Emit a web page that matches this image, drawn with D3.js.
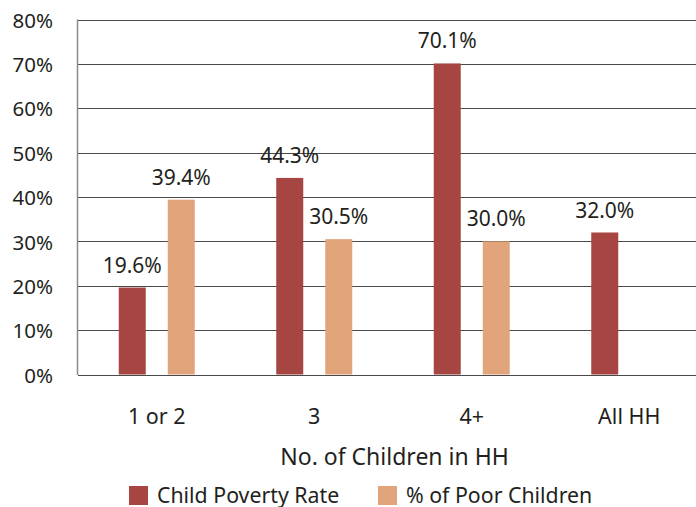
<!DOCTYPE html>
<html>
<head>
<meta charset="utf-8">
<script src="https://cdn.jsdelivr.net/npm/d3@7"></script>
<style>
  html, body { margin: 0; padding: 0; background: #fff; }
  svg { display: block; font-family: "Noto Sans", "Open Sans", sans-serif; }
</style>
</head>
<body>
<svg id="chart" width="696" height="507"></svg>
<script>
// Household groups by number of children
const categories = ["1 or 2", "3", "4+", "All HH"];
const seriesNames = ["Child Poverty Rate", "% of Poor Children"];
const povertyRate = [0.196, 0.443, 0.701, 0.320];
const poorShare = [0.394, 0.305, 0.300, null];
const yTicks = [0, 0.1, 0.2, 0.3, 0.4, 0.5, 0.6, 0.7, 0.8];
const axisTitle = "No. of Children in HH";

const colors = ["#a64541", "#e2a47b"];
const textColor = "#231f20";

const svg = d3.select("#chart");

const x = d3.scaleBand().domain(categories).range([78, 708]);
const inner = d3.scaleBand().domain(seriesNames).range([-38, 38]).paddingInner(0.449);
const y = d3.scaleLinear().domain([0, 0.8]).range([374.5, 19.5]);

// horizontal gridlines
svg.append("g")
  .selectAll("line")
  .data(yTicks)
  .join("line")
  .attr("x1", 78).attr("x2", 696)
  .attr("y1", d => Math.round(y(d)) + 0.5)
  .attr("y2", d => Math.round(y(d)) + 0.5)
  .attr("stroke", "#4a4a4a")
  .attr("stroke-width", 1);

// y axis tick labels
svg.append("g")
  .selectAll("text")
  .data(yTicks)
  .join("text")
  .attr("x", 53)
  .attr("y", d => y(d))
  .attr("dy", "0.4em")
  .attr("text-anchor", "end")
  .attr("font-size", 20.5)
  .attr("fill", textColor)
  .text(d3.format(".0%"));

// bars and value labels
const rows = categories.map((c, i) => ({
  category: c,
  values: [povertyRate[i], poorShare[i]]
}));

const barData = rows.flatMap(r => r.values.map((v, k) => ({
  category: r.category, series: seriesNames[k], k, value: v
}))).filter(d => d.value != null);

const cx = d => x(d.category) + x.bandwidth() / 2 + inner(d.series);

svg.append("g")
  .selectAll("rect")
  .data(barData)
  .join("rect")
  .attr("x", cx)
  .attr("width", inner.bandwidth())
  .attr("y", d => y(d.value))
  .attr("height", d => y(0) - y(d.value))
  .attr("fill", d => colors[d.k]);

svg.append("g")
  .selectAll("text")
  .data(barData)
  .join("text")
  .attr("x", d => cx(d) + inner.bandwidth() / 2)
  .attr("y", d => y(d.value) - 15)
  .attr("text-anchor", "middle")
  .attr("font-size", 21)
  .attr("fill", textColor)
  .text(d => d3.format(".1%")(d.value));

// left axis line
svg.append("line")
  .attr("x1", 77.5).attr("x2", 77.5)
  .attr("y1", y(0.8)).attr("y2", y(0) + 0.5)
  .attr("stroke", "#8c8c8c")
  .attr("stroke-width", 1.5);

// category labels
svg.append("g")
  .selectAll("text")
  .data(categories)
  .join("text")
  .attr("x", d => x(d) + x.bandwidth() / 2)
  .attr("y", 423.5)
  .attr("text-anchor", "middle")
  .attr("font-size", 21.5)
  .attr("fill", textColor)
  .text(d => d);

// axis title
svg.append("text")
  .attr("x", 394.5)
  .attr("y", 464.5)
  .attr("text-anchor", "middle")
  .attr("font-size", 23)
  .attr("fill", textColor)
  .text(axisTitle);

// legend
const legendX = [129, 378];
const legend = svg.append("g")
  .selectAll("g")
  .data(seriesNames)
  .join("g")
  .attr("transform", (d, i) => `translate(${legendX[i]},486)`);

legend.append("rect")
  .attr("width", 19).attr("height", 19)
  .attr("fill", (d, i) => colors[i]);

legend.append("text")
  .attr("x", 28)
  .attr("y", 16.5)
  .attr("font-size", 21.3)
  .attr("fill", textColor)
  .text(d => d);
</script>
</body>
</html>
